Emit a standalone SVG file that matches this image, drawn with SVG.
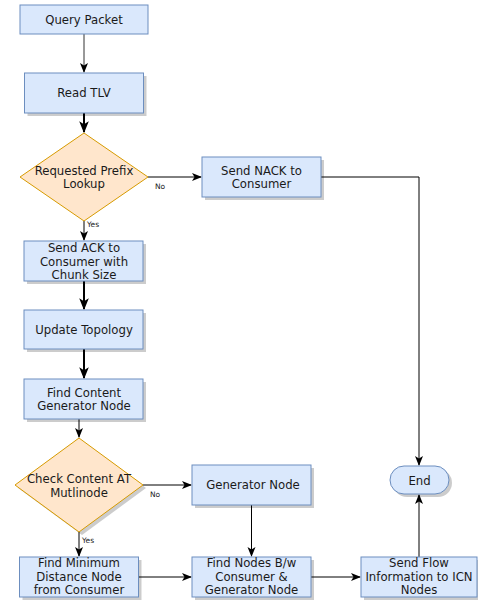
<svg xmlns="http://www.w3.org/2000/svg" width="478" height="603" viewBox="0 0 478 603">
<style>
.box{fill:#dae8fc;stroke:#6c8ebf;stroke-width:1}
.dia{fill:#ffe6cc;stroke:#d79b00;stroke-width:1}
.sh{fill:#000;opacity:0.2;stroke:none}
.t{font-family:"DejaVu Sans",Verdana,sans-serif;font-size:11.7px;fill:#1a1a1a;text-anchor:middle}
.s{font-family:"DejaVu Sans",Verdana,sans-serif;font-size:7.5px;fill:#1a1a1a}
.e{fill:none;stroke:#000;stroke-width:1}
.e2{fill:none;stroke:#000;stroke-width:2}
</style>
<defs>
<marker id="a" viewBox="0 0 10 10" refX="9" refY="5" markerWidth="10" markerHeight="10" markerUnits="userSpaceOnUse" orient="auto">
<path d="M0,1 L10,5 L0,9 L2.5,5 Z" fill="#000"/>
</marker>
<marker id="a2" viewBox="0 0 10 10" refX="9" refY="5" markerWidth="6" markerHeight="6" orient="auto">
<path d="M0,1 L10,5 L0,9 L2.5,5 Z" fill="#000"/>
</marker>
</defs>
<g id="connectors">
<path class="e" d="M84,34 V72" marker-end="url(#a)" style="stroke:#333"/>
<path class="e2" d="M84,113 V132" marker-end="url(#a2)"/>
<path class="e" d="M148,177 H201" marker-end="url(#a)"/>
<path class="e" d="M84,221 V240" marker-end="url(#a)"/>
<path class="e" d="M321,177 H419 V465" marker-end="url(#a)"/>
<path class="e2" d="M84,281 V309" marker-end="url(#a2)"/>
<path class="e2" d="M84,349 V378" marker-end="url(#a2)"/>
<path class="e" d="M79,419 V437" marker-end="url(#a)"/>
<path class="e" d="M143,485 H191" marker-end="url(#a)"/>
<path class="e" d="M79,532 V556" marker-end="url(#a)"/>
<path class="e" d="M251.5,505 V556" marker-end="url(#a)"/>
<path class="e" d="M138.5,577 H191" marker-end="url(#a)"/>
<path class="e" d="M311,577 H360" marker-end="url(#a)"/>
<path class="e" d="M419,557 V495" marker-end="url(#a)"/>
<text class="s" x="155" y="189">No</text>
<text class="s" x="87" y="227">Yes</text>
<text class="s" x="150" y="497">No</text>
<text class="s" x="82" y="543">Yes</text>
</g>
<g id="query-packet">
<rect class="box" x="20" y="5" width="128" height="29"/>
<text class="t" x="84" y="24">Query Packet</text>
</g>
<g id="read-tlv">
<rect class="sh" x="27.5" y="76" width="119" height="40"/>
<rect class="box" x="24.5" y="73" width="119" height="40"/>
<text class="t" x="84" y="97">Read TLV</text>
</g>
<g id="prefix-lookup">
<path class="dia" d="M84,133 L148,177 L84,221 L20,177 Z"/>
<text class="t" x="84" y="175">Requested Prefix</text>
<text class="t" x="84" y="188">Lookup</text>
</g>
<g id="send-nack">
<rect class="sh" x="205" y="160" width="119" height="40"/>
<rect class="box" x="202" y="157" width="119" height="40"/>
<text class="t" x="261.5" y="175">Send NACK to</text>
<text class="t" x="261.5" y="188">Consumer</text>
</g>
<g id="send-ack">
<rect class="sh" x="27" y="244" width="119" height="40"/>
<rect class="box" x="24" y="241" width="119" height="40"/>
<text class="t" x="84" y="252">Send ACK to</text>
<text class="t" x="84" y="265.5">Consumer with</text>
<text class="t" x="84" y="279">Chunk Size</text>
</g>
<g id="update-topology">
<rect class="sh" x="27" y="313" width="119" height="39"/>
<rect class="box" x="24" y="310" width="119" height="39"/>
<text class="t" x="84" y="334">Update Topology</text>
</g>
<g id="find-content-generator">
<rect class="sh" x="27" y="382" width="119" height="40"/>
<rect class="box" x="24" y="379" width="119" height="40"/>
<text class="t" x="84" y="397">Find Content</text>
<text class="t" x="84" y="410">Generator Node</text>
</g>
<g id="check-content">
<path class="sh" d="M82,441 L146,488 L82,535 L18,488 Z"/>
<path class="dia" d="M79,438 L143,485 L79,532 L15,485 Z"/>
<text class="t" x="79" y="483">Check Content AT</text>
<text class="t" x="79" y="497">Mutlinode</text>
</g>
<g id="generator-node">
<rect class="sh" x="195" y="468" width="119" height="40"/>
<rect class="box" x="192" y="465" width="119" height="40"/>
<text class="t" x="253" y="489">Generator Node</text>
</g>
<g id="end">
<rect class="sh" x="393" y="469" width="59" height="28" rx="14"/>
<rect class="box" x="390" y="466" width="59" height="28" rx="14"/>
<text class="t" x="419.5" y="485">End</text>
</g>
<g id="find-minimum">
<rect class="sh" x="22.5" y="560" width="119" height="40"/>
<rect class="box" x="19.5" y="557" width="119" height="40"/>
<text class="t" x="79" y="567">Find Minimum</text>
<text class="t" x="79" y="580.5">Distance Node</text>
<text class="t" x="79" y="594">from Consumer</text>
</g>
<g id="find-nodes">
<rect class="sh" x="195" y="560" width="119" height="40"/>
<rect class="box" x="192" y="557" width="119" height="40"/>
<text class="t" x="251.5" y="567">Find Nodes B/w</text>
<text class="t" x="251.5" y="580.5">Consumer &amp;</text>
<text class="t" x="251.5" y="594">Generator Node</text>
</g>
<g id="send-flow">
<rect class="sh" x="364" y="560" width="116" height="40"/>
<rect class="box" x="361" y="557" width="116" height="40"/>
<text class="t" x="419" y="567">Send Flow</text>
<text class="t" x="419" y="580.5">Information to ICN</text>
<text class="t" x="419" y="594">Nodes</text>
</g>
</svg>
